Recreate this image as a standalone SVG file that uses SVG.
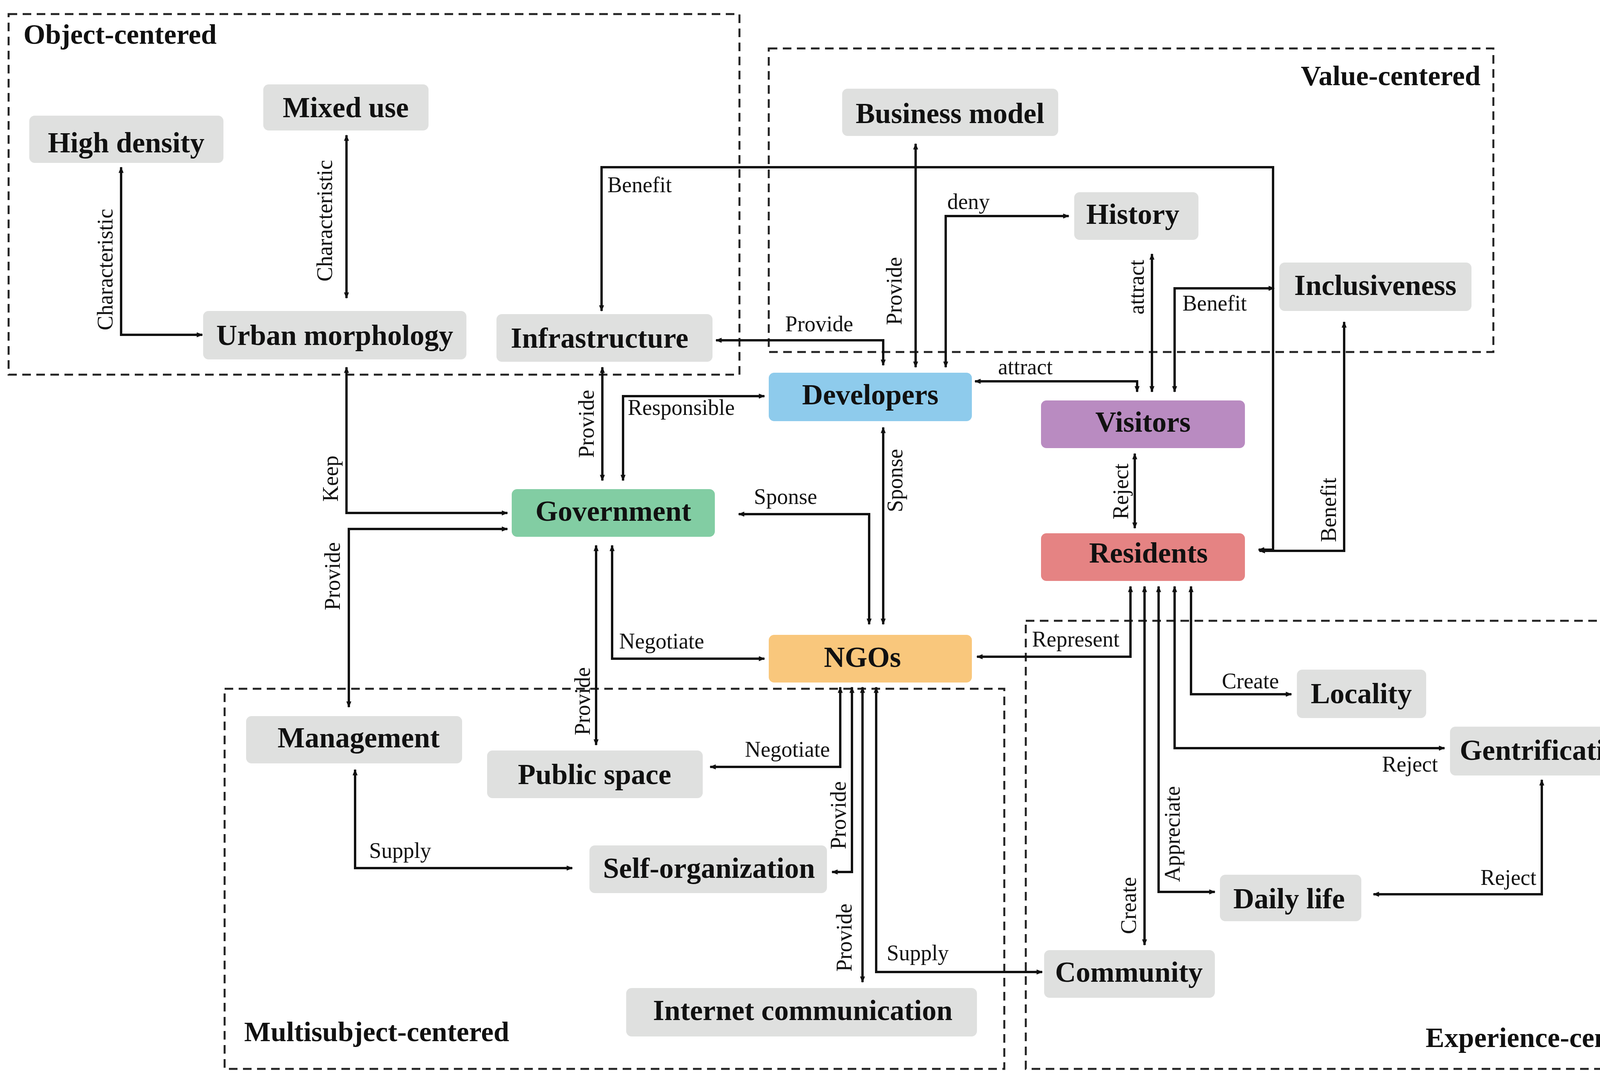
<svg xmlns="http://www.w3.org/2000/svg" width="4334" height="2767" viewBox="0 0 4334 2767">
<style>
.grp{fill:none;stroke:#222;stroke-width:5;stroke-dasharray:22 14}
.gt{font-family:"Liberation Serif",serif;font-weight:bold;font-size:72px;fill:#111}
.n{fill:#dfe0df;rx:14}
.nt{font-family:"Liberation Serif",serif;font-weight:bold;font-size:74px;fill:#111;text-anchor:middle;dominant-baseline:central}
.c{fill:none;stroke:#111;stroke-width:6;marker-end:url(#a)}
.b{marker-start:url(#a)}
.l{font-family:"Liberation Serif",serif;font-size:56px;fill:#111}
.r{text-anchor:middle}
</style>
<defs>
<marker id="a" viewBox="0 0 10 10" refX="9" refY="5" markerWidth="20" markerHeight="16" markerUnits="userSpaceOnUse" orient="auto-start-reverse"><path d="M0,1 L10,5 L0,9 z" fill="#111"/></marker>
</defs>
<rect width="4334" height="2767" fill="#fff"/>
<g id="groups">
<rect class="grp" x="22" y="36" width="1871" height="923"/>
<text class="gt" x="60" y="112">Object-centered</text>
<rect class="grp" x="1968" y="124" width="1855" height="777"/>
<text class="gt" x="3790" y="218" text-anchor="end">Value-centered</text>
<rect class="grp" x="575" y="1763" width="1996" height="973"/>
<text class="gt" x="625" y="2665">Multisubject-centered</text>
<rect class="grp" x="2626" y="1589" width="1677" height="1147"/>
<text class="gt" x="4280" y="2680" text-anchor="end">Experience-centered</text>
</g>
<g id="connectors">
<path class="c b" d="M310,428 V857 H518"/>
<text class="l r" transform="translate(288,690) rotate(-90)">Characteristic</text>
<path class="c b" d="M887,346 V763"/>
<text class="l r" transform="translate(850,565) rotate(-90)">Characteristic</text>
<path class="c b" d="M1540,796 V428 H3259 V1407 H3222"/>
<text class="l" x="1555" y="492">Benefit</text>
<path class="c b" d="M2261,935 V871 H1833"/>
<text class="l" x="2010" y="848">Provide</text>
<path class="c b" d="M2344,368 V940"/>
<text class="l r" transform="translate(2308,745) rotate(-90)">Provide</text>
<path class="c b" d="M2421,940 V553 H2736"/>
<text class="l" x="2425" y="535">deny</text>
<path class="c b" d="M2496,976 H2911 V1003"/>
<text class="l" x="2555" y="958">attract</text>
<path class="c b" d="M2949,650 V1003"/>
<text class="l r" transform="translate(2928,735) rotate(-90)">attract</text>
<path class="c b" d="M3007,1003 V738 H3262"/>
<text class="l" x="3027" y="795">Benefit</text>
<path class="c b" d="M2905,1161 V1352"/>
<text class="l r" transform="translate(2888,1258) rotate(-90)">Reject</text>
<path class="c b" d="M3441,824 V1410 H3224"/>
<text class="l r" transform="translate(3420,1305) rotate(-90)">Benefit</text>
<path class="c b" d="M1595,1230 V1014 H1957"/>
<text class="l" x="1607" y="1062">Responsible</text>
<path class="c b" d="M1542,940 V1230"/>
<text class="l r" transform="translate(1520,1085) rotate(-90)">Provide</text>
<path class="c b" d="M887,940 V1313 H1299"/>
<text class="l r" transform="translate(865,1225) rotate(-90)">Keep</text>
<path class="c b" d="M1299,1354 H893 V1810"/>
<text class="l r" transform="translate(870,1475) rotate(-90)">Provide</text>
<path class="c b" d="M1891,1316 H2225 V1598"/>
<text class="l" x="1930" y="1290">Sponse</text>
<path class="c b" d="M2261,1094 V1598"/>
<text class="l r" transform="translate(2310,1230) rotate(-90)">Sponse</text>
<path class="c b" d="M1526,1396 V1907"/>
<text class="l r" transform="translate(1510,1795) rotate(-90)">Provide</text>
<path class="c b" d="M1567,1396 V1686 H1957"/>
<text class="l" x="1585" y="1660">Negotiate</text>
<path class="c b" d="M2894,1501 V1681 H2501"/>
<text class="l" x="2642" y="1655">Represent</text>
<path class="c b" d="M2930,1501 V2419"/>
<text class="l r" transform="translate(2908,2318) rotate(-90)">Create</text>
<path class="c b" d="M2966,1501 V2283 H3110"/>
<text class="l r" transform="translate(3020,2135) rotate(-90)">Appreciate</text>
<path class="c b" d="M3007,1501 V1915 H3698"/>
<text class="l" x="3538" y="1975">Reject</text>
<path class="c b" d="M3049,1501 V1777 H3306"/>
<text class="l" x="3128" y="1762">Create</text>
<path class="c b" d="M3947,1996 V2289 H3516"/>
<text class="l" x="3790" y="2265">Reject</text>
<path class="c b" d="M2151,1759 V1963 H1818"/>
<text class="l" x="1907" y="1937">Negotiate</text>
<path class="c b" d="M2181,1759 V2232 H2130"/>
<text class="l r" transform="translate(2165,2087) rotate(-90)">Provide</text>
<path class="c b" d="M2208,1759 V2514"/>
<text class="l r" transform="translate(2180,2400) rotate(-90)">Provide</text>
<path class="c b" d="M2243,1759 V2488 H2668"/>
<text class="l" x="2270" y="2458">Supply</text>
<path class="c b" d="M909,1970 V2222 H1465"/>
<text class="l" x="945" y="2196">Supply</text>
</g>
<g id="high-density"><rect class="n" x="75" y="296" width="497" height="121"/><text class="nt" x="323" y="365">High density</text></g>
<g id="mixed-use"><rect class="n" x="674" y="216" width="423" height="118"/><text class="nt" x="885" y="275">Mixed use</text></g>
<g id="urban-morphology"><rect class="n" x="520" y="796" width="674" height="124"/><text class="nt" x="857" y="858">Urban morphology</text></g>
<g id="infrastructure"><rect class="n" x="1271" y="804" width="553" height="122"/><text class="nt" x="1535" y="865">Infrastructure</text></g>
<g id="business-model"><rect class="n" x="2156" y="227" width="553" height="121"/><text class="nt" x="2432" y="290">Business model</text></g>
<g id="history"><rect class="n" x="2750" y="492" width="318" height="122"/><text class="nt" x="2900" y="548">History</text></g>
<g id="inclusiveness"><rect class="n" x="3275" y="672" width="492" height="124"/><text class="nt" x="3521" y="730">Inclusiveness</text></g>
<g id="developers"><rect x="1968" y="954" width="520" height="124" rx="14" fill="#8ecbec"/><text class="nt" x="2228" y="1010">Developers</text></g>
<g id="visitors"><rect x="2665" y="1025" width="522" height="122" rx="14" fill="#b98bc1"/><text class="nt" x="2926" y="1080">Visitors</text></g>
<g id="residents"><rect x="2665" y="1365" width="522" height="122" rx="14" fill="#e58383"/><text class="nt" x="2940" y="1415">Residents</text></g>
<g id="government"><rect x="1310" y="1252" width="520" height="122" rx="14" fill="#82cda3"/><text class="nt" x="1570" y="1308">Government</text></g>
<g id="ngos"><rect x="1968" y="1625" width="520" height="122" rx="14" fill="#f9c77c"/><text class="nt" x="2208" y="1682">NGOs</text></g>
<g id="management"><rect class="n" x="630" y="1833" width="553" height="121" rx="14"/><text class="nt" x="918" y="1888">Management</text></g>
<g id="public-space"><rect class="n" x="1247" y="1921" width="552" height="122"/><text class="nt" x="1522" y="1982">Public space</text></g>
<g id="self-organization"><rect class="n" x="1509" y="2164" width="608" height="122"/><text class="nt" x="1815" y="2222">Self-organization</text></g>
<g id="internet-communication"><rect class="n" x="1603" y="2529" width="898" height="124"/><text class="nt" x="2055" y="2586">Internet communication</text></g>
<g id="locality"><rect class="n" x="3320" y="1714" width="331" height="124"/><text class="nt" x="3485" y="1775">Locality</text></g>
<g id="gentrification"><rect class="n" x="3712" y="1860" width="498" height="125"/><text class="nt" x="3961" y="1920">Gentrification</text></g>
<g id="daily-life"><rect class="n" x="3123" y="2239" width="362" height="119"/><text class="nt" x="3300" y="2300">Daily life</text></g>
<g id="community"><rect class="n" x="2673" y="2432" width="437" height="122"/><text class="nt" x="2890" y="2488">Community</text></g>
</svg>
